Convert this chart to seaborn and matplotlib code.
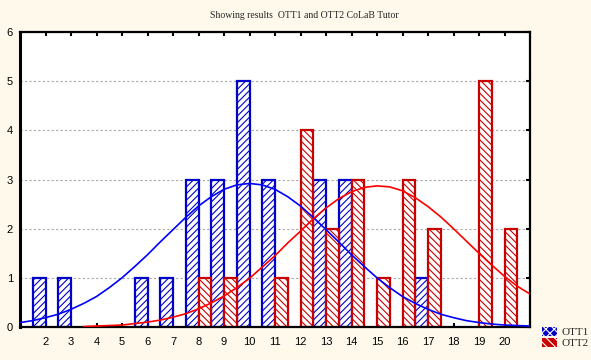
import pandas as pd
import matplotlib
matplotlib.use("Agg")
import matplotlib.pyplot as plt
import seaborn as sns
from matplotlib.patches import Patch

# Counts per score (scores 1..20)
scores = list(range(1, 21))
ott1_counts = [0, 1, 1, 0, 0, 1, 1, 3, 3, 5, 3, 0, 3, 3, 0, 0, 1, 0, 0, 0]
ott2_counts = [0, 0, 0, 0, 0, 0, 0, 1, 1, 0, 1, 4, 2, 3, 1, 3, 2, 0, 5, 2]

# Fitted normal curves, every half score
curve1_x = [1, 1.5, 2, 2.5, 3, 3.5, 4, 4.5, 5, 5.5, 6, 6.5, 7, 7.5, 8, 8.5, 9, 9.5, 10,
            10.5, 11, 11.5, 12, 12.5, 13, 13.5, 14, 14.5, 15, 15.5, 16, 16.5, 17, 17.5,
            18, 18.5, 19, 19.5, 20, 20.5, 21]
curve1_y = [0.09, 0.13, 0.19, 0.26, 0.36, 0.48, 0.62, 0.80, 1.00, 1.23, 1.47, 1.73, 1.98,
            2.23, 2.46, 2.65, 2.80, 2.89, 2.92, 2.89, 2.80, 2.65, 2.46, 2.23, 1.98, 1.73,
            1.47, 1.23, 1.00, 0.80, 0.62, 0.48, 0.36, 0.26, 0.19, 0.13, 0.09, 0.06, 0.04,
            0.03, 0.02]
curve2_x = [3.5, 4, 4.5, 5, 5.5, 6, 6.5, 7, 7.5, 8, 8.5, 9, 9.5, 10, 10.5, 11, 11.5, 12,
            12.5, 13, 13.5, 14, 14.5, 15, 15.5, 16, 16.5, 17, 17.5, 18, 18.5, 19, 19.5,
            20, 20.5, 21]
curve2_y = [0.01, 0.02, 0.03, 0.04, 0.07, 0.10, 0.14, 0.20, 0.27, 0.37, 0.49, 0.63, 0.80,
            0.99, 1.22, 1.45, 1.71, 1.95, 2.20, 2.42, 2.61, 2.75, 2.84, 2.87, 2.85, 2.77,
            2.63, 2.45, 2.24, 2.00, 1.75, 1.50, 1.26, 1.03, 0.83, 0.67]

groups = ["OTT1", "OTT2"]
edge_colors = {"OTT1": "#0000C8", "OTT2": "#C80000"}
line_colors = {"OTT1": "#0000FF", "OTT2": "#FF0000"}
hatches = {"OTT1": "/////", "OTT2": "\\\\\\\\\\"}
bg = "#FFF9EC"

df = pd.DataFrame({
    "score": scores * 2,
    "count": ott1_counts + ott2_counts,
    "group": ["OTT1"] * len(scores) + ["OTT2"] * len(scores),
})
df = df[df["count"] > 0]

sns.set_theme(style="white")
plt.rcParams["font.family"] = ["Liberation Sans", "DejaVu Sans"]
plt.rcParams["hatch.linewidth"] = 0.8

fig = plt.figure(figsize=(5.91, 3.60), dpi=100, facecolor=bg)
ax = fig.add_axes([20 / 591, 33 / 360, 510 / 591, 295 / 360])
ax.set_facecolor("white")
ax.set_axisbelow(True)
ax.yaxis.grid(True, color="#A8A8A8", linestyle=(0, (2, 2)), linewidth=0.8)

sns.barplot(data=df, x="score", y="count", hue="group", hue_order=groups,
            native_scale=True, width=1.0, dodge=True, errorbar=None,
            legend=False, ax=ax)

for cont, g in zip(ax.containers, groups):
    for bar in cont:
        bar.set_facecolor("white")
        bar.set_edgecolor(edge_colors[g])
        bar.set_hatch(hatches[g])
        bar.set_linewidth(1.6)

sns.lineplot(x=curve1_x, y=curve1_y, color=line_colors["OTT1"], lw=1.2, ax=ax, zorder=5)
sns.lineplot(x=curve2_x, y=curve2_y, color=line_colors["OTT2"], lw=1.2, ax=ax, zorder=5)

ax.set_xlim(1, 21)
ax.set_ylim(0, 6)
ax.set_xticks(range(2, 21))
ax.set_yticks(range(0, 7))
ax.set_xlabel("")
ax.set_ylabel("")

for side in ["top", "right", "bottom", "left"]:
    ax.spines[side].set_visible(True)
    ax.spines[side].set_color("black")
    ax.spines[side].set_linewidth(1.6)
ax.spines["left"].set_linewidth(2.2)

ax.tick_params(axis="x", direction="in", length=3, width=1.5, top=True, bottom=True,
               labelsize=8, pad=7, colors="black")
ax.tick_params(axis="y", direction="in", length=3, width=1.5, right=True, left=False,
               labelsize=8, pad=5, colors="black")

fig.text(304 / 591, 345 / 360, "Showing results  OTT1 and OTT2 CoLaB Tutor",
         ha="center", va="center", fontsize=7, family=["Liberation Serif"])

handles = [
    Patch(facecolor=edge_colors["OTT1"], edgecolor="white", hatch="xxxx", linewidth=0, label="OTT1"),
    Patch(facecolor=edge_colors["OTT2"], edgecolor="white", hatch="\\\\\\\\", linewidth=0, label="OTT2"),
]
fig.legend(handles=handles, loc="lower left", bbox_to_anchor=(534 / 591, 4 / 360),
           frameon=False, handlelength=1.4, handleheight=0.9, handletextpad=0.4,
           labelspacing=0.05, borderpad=0.2, prop={"family": "Liberation Serif", "size": 8})

fig.savefig("out.png", dpi=100, facecolor=bg)
